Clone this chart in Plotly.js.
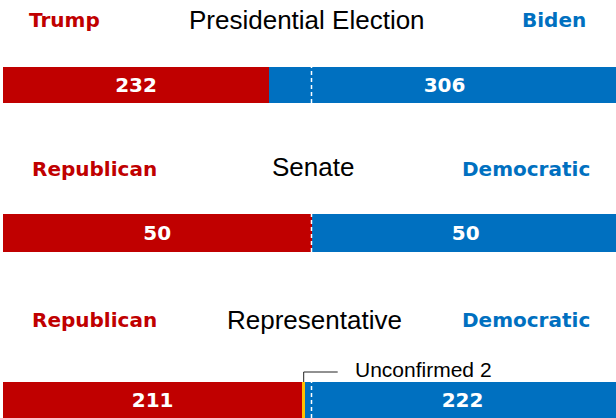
<!DOCTYPE html>
<html>
<head>
<meta charset="utf-8">
<script src="https://cdn.plot.ly/plotly-3.0.1.min.js"></script>
<style>html,body{margin:0;padding:0;background:#fff;}#chart{width:616px;height:418px;}</style>
</head>
<body>
<div id="chart"></div>
<script>
const races = ['Presidential Election', 'Senate', 'Representative'];
const leftLabels = ['Trump', 'Republican', 'Republican'];
const rightLabels = ['Biden', 'Democratic', 'Democratic'];
const republican = [232, 50, 211];
const unconfirmed = [0, 0, 2];
const democratic = [306, 50, 222];
const unconfirmedLabel = 'Unconfirmed';

const RED = '#C00000', BLUE = '#0070C0', YELLOW = '#FFC000';
const W = 616, H = 418;
// bar vertical extents in px (top, bottom)
const barPx = [[67, 103], [214, 252], [382, 420]];
const titleX = [305.5, 311.5, 313.5];
const titleY = [20, 167, 320];
const sideY = [20, 169, 320];
const leftX = [25, 28, 28];
const rightX = [587, 591, 591];

const boldFont = 'DejaVu Sans, sans-serif';
const plainFont = 'Liberation Sans, Arial, sans-serif';
const traces = [], shapes = [], annotations = [];
const layout = {
  width: W, height: H,
  margin: {l: 3, r: 0, t: 0, b: 0},
  paper_bgcolor: '#fff', plot_bgcolor: '#fff',
  barmode: 'stack', bargap: 0, showlegend: false, hovermode: false,
  font: {family: plainFont, color: '#000'}
};

races.forEach((race, i) => {
  const n = i === 0 ? '' : String(i + 1);
  const xa = 'x' + n, ya = 'y' + n;
  const total = republican[i] + unconfirmed[i] + democratic[i];
  // midpoint of total sits at 308.5px of the 613px plot width
  const R = total / 2 * 613 / 308.5;
  layout['xaxis' + n] = {range: [0, R], domain: [0, 1], anchor: ya, showticklabels: false,
    showgrid: false, zeroline: false, showline: false, fixedrange: true};
  const [top, bot] = barPx[i];
  layout['yaxis' + n] = {domain: [Math.max(0, 1 - bot / H), 1 - top / H], anchor: xa,
    type: 'category', range: [-0.5, 0.5], showticklabels: false, showgrid: false,
    zeroline: false, showline: false, fixedrange: true};
  const common = {type: 'bar', orientation: 'h', y: [race], xaxis: xa, yaxis: ya,
    textposition: 'inside', insidetextanchor: 'middle', constraintext: 'none', textangle: 0,
    textfont: {family: boldFont, size: 20, color: '#fff', weight: 'bold'},
    hoverinfo: 'skip', cliponaxis: true};
  traces.push(Object.assign({}, common, {x: [republican[i]], text: [String(republican[i])], marker: {color: RED, line: {width: 0}}}));
  traces.push(Object.assign({}, common, {x: [unconfirmed[i]], text: [''], marker: {color: YELLOW, line: {width: 0}}}));
  traces.push(Object.assign({}, common, {x: [democratic[i]], text: [String(democratic[i])], marker: {color: BLUE, line: {width: 0}}}));

  // dashed majority line
  shapes.push({type: 'line', xref: xa, yref: ya + ' domain', x0: total / 2, x1: total / 2, y0: 0, y1: 1,
    line: {color: '#fff', width: 1.5, dash: '4px,3px'}, layer: 'above'});

  annotations.push({xref: 'paper', yref: 'paper', x: titleX[i] / W, y: 1 - titleY[i] / H, xanchor: 'center', yanchor: 'middle',
    text: race, showarrow: false, font: {size: 26, color: '#000', family: plainFont}});
  annotations.push({xref: 'paper', yref: 'paper', x: leftX[i] / W, y: 1 - sideY[i] / H, xanchor: 'left', yanchor: 'middle',
    text: leftLabels[i], showarrow: false, borderpad: 0, font: {size: 20, color: RED, family: boldFont, weight: 'bold'}});
  annotations.push({xref: 'paper', yref: 'paper', x: rightX[i] / W, y: 1 - sideY[i] / H, xanchor: 'right', yanchor: 'middle',
    text: rightLabels[i], showarrow: false, borderpad: 0, font: {size: 20, color: BLUE, family: boldFont, weight: 'bold'}});

  if (unconfirmed[i] > 0) {
    const ux = republican[i] + unconfirmed[i] / 2;
    shapes.push({type: 'line', xref: xa, x0: ux, x1: ux, yref: ya + ' domain', ysizemode: 'pixel', yanchor: 1,
      y0: 0, y1: 10, line: {color: '#222', width: 1}});
    shapes.push({type: 'line', xref: xa, xsizemode: 'pixel', xanchor: ux, x0: 0, x1: 34,
      yref: ya + ' domain', ysizemode: 'pixel', yanchor: 1, y0: 10, y1: 10, line: {color: '#222', width: 1}});
    annotations.push({xref: xa, yref: ya + ' domain', x: ux, y: 1, xshift: 49, yshift: 13, xanchor: 'left', yanchor: 'middle',
      text: unconfirmedLabel + ' ' + unconfirmed[i], showarrow: false,
      font: {size: 21, color: '#000', family: plainFont}});
  }
});
layout.shapes = shapes;
layout.annotations = annotations;
Plotly.newPlot('chart', traces, layout, {displayModeBar: false, staticPlot: true});
</script>
</body>
</html>
